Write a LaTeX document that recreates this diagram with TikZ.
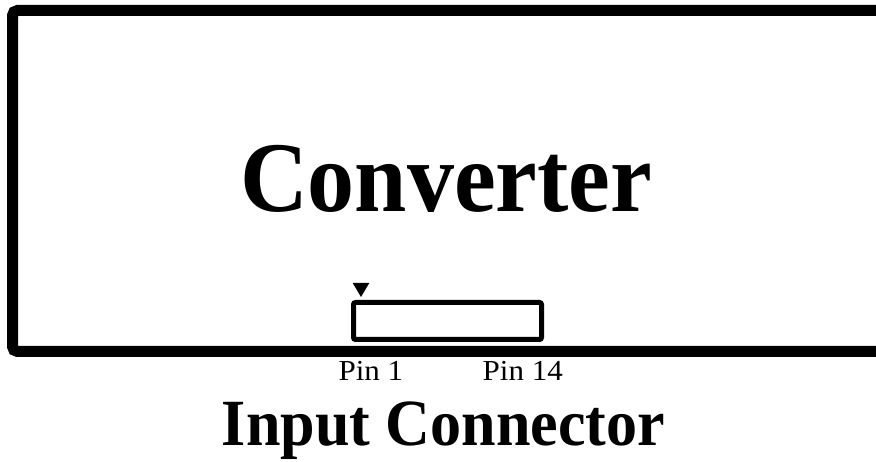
\documentclass[tikz,border=0pt]{standalone}
\usepackage{fontspec}
\setmainfont{Liberation Serif}
\usepackage{graphicx}
\tikzset{
  pinlabel/.style={anchor=base,inner sep=0pt,font=\fontsize{29}{31}\selectfont},
  bigtitle/.style={anchor=base,inner sep=0pt,font=\bfseries\fontsize{100}{110}\selectfont},
  subtitle/.style={anchor=base,inner sep=0pt,font=\bfseries\fontsize{66}{72}\selectfont}
}
\begin{document}
\begin{tikzpicture}[x=1pt,y=-1pt]
   \useasboundingbox (0,0) rectangle (876,462);
   \clip (0,0) rectangle (876,462);
   \draw[line width=11pt,rounded corners=5pt] (900,10.5) -- (12.5,10.5) -- (12.5,351.5) -- (900,351.5);
   \node[bigtitle] (conv) at (446.2,212) {\scalebox{0.94}[1]{Converter}};
   \node[draw,line width=5pt,rounded corners=2pt,minimum width=188pt,minimum height=37pt,inner sep=0pt] (conn) at (447.5,321) {};
   \fill (352.7,283) -- (369.3,283) -- (361,297) -- cycle;
   \node[pinlabel] (pin1) at (370.9,381) {\scalebox{1.07}[1]{Pin 1}};
   \node[pinlabel] (pin14) at (522.8,381) {\scalebox{1.07}[1]{Pin 14}};
   \node[subtitle] (input) at (443.4,445) {\scalebox{0.94}[1]{Input Connector}};
 \end{tikzpicture}
\end{document}
